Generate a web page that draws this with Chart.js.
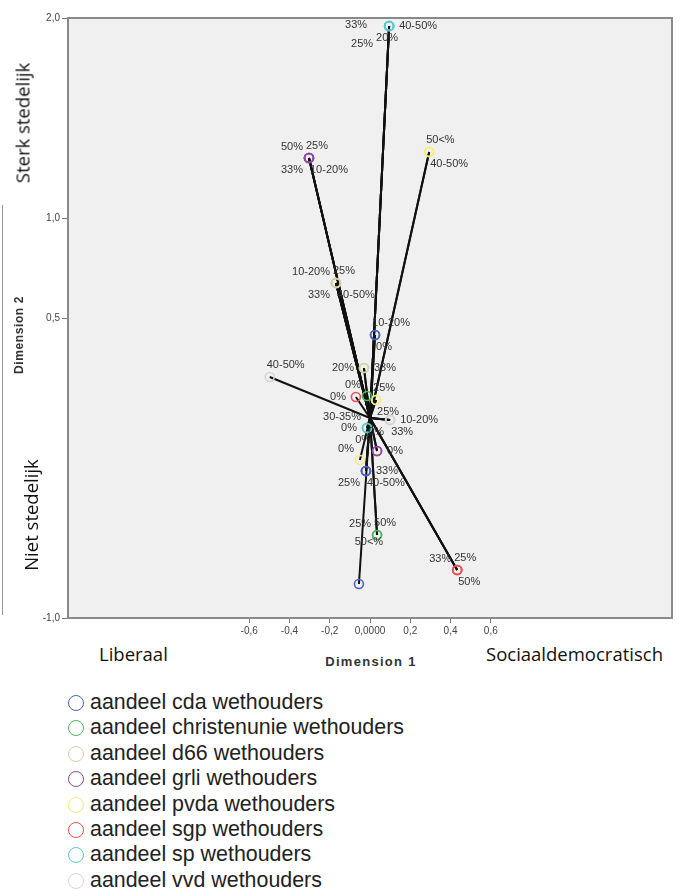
<!DOCTYPE html>
<html>
<head>
<meta charset="utf-8">
<script src="https://cdn.jsdelivr.net/npm/chart.js@4.4.1/dist/chart.umd.min.js"></script>
<style>
	body { margin: 0; width: 680px; height: 891px; background: #fff; position: relative; overflow: hidden; font-family: 'Liberation Sans', Arial, sans-serif; }
	#wrap { position: absolute; left: 0; top: 0; width: 680px; height: 640px; }
	.side { position: absolute; font-family: 'Open Sans', sans-serif; font-size: 18.5px; color: #111; white-space: nowrap; }
	.rot { transform: translate(-50%, -50%) rotate(-90deg); }
	.dim { position: absolute; font-weight: bold; font-size: 12px; color: #333; white-space: nowrap; letter-spacing: 0.6px; }
	.dim1 { font-size: 13px; letter-spacing: 1.3px; }
	.legend { position: absolute; left: 68px; top: 690px; }
	.legend div { height: 25.4px; line-height: 25.4px; font-size: 21.4px; color: #222; white-space: nowrap; }
	.legend span { display: inline-block; width: 16px; height: 16px; border: 1.6px solid; border-radius: 50%; vertical-align: -2px; margin-right: 6px; box-sizing: border-box; }
	.edge { position: absolute; left: 2px; top: 205px; width: 1px; height: 410px; background: #999; }
</style>
</head>
<body>
<div class="edge"></div>
<div id="wrap"><canvas id="chart"></canvas></div>
<div class="side rot" style="left:22px; top:123px;">Sterk stedelijk</div>
<div class="side rot" style="left:30px; top:515px;">Niet stedelijk</div>
<div class="dim rot" style="left:19px; top:335px;">Dimension 2</div>
<div class="dim dim1" style="left:371px; top:661px; transform: translate(-50%, -50%);">Dimension 1</div>
<div class="side" style="left:99px; top:641px;">Liberaal</div>
<div class="side" style="left:486px; top:641px;">Sociaaldemocratisch</div>
<div class="legend" id="legend"></div>
<script>
'use strict';

const parties = [
	'aandeel cda wethouders',
	'aandeel christenunie wethouders',
	'aandeel d66 wethouders',
	'aandeel grli wethouders',
	'aandeel pvda wethouders',
	'aandeel sgp wethouders',
	'aandeel sp wethouders',
	'aandeel vvd wethouders',
];

const xTicks = [-0.6, -0.4, -0.2, 0, 0.2, 0.4, 0.6];
const xTickLabels = ['-0,6', '-0,4', '-0,2', '0,0000', '0,2', '0,4', '0,6'];
const yTicks = [-1.0, 0.5, 1.0, 2.0];
const yTickLabels = ['-1,0', '0,5', '1,0', '2,0'];

// category points per party: dimension 1, dimension 2, category
const cdaDim1 = [0.025, 0.025, -0.02, -0.02, -0.02, -0.055];
const cdaDim2 = [0.415, 0.415, -0.265, -0.265, -0.265, -0.83];
const cdaCats = ['10-20%', '0%', '25%', '40-50%', '33%', '50<%'];

const cuDim1 = [-0.015, 0.035, 0.035];
const cuDim2 = [0.11, -0.585, -0.585];
const cuCats = ['0%', '25%', '50%'];

const d66Dim1 = [-0.169, -0.169, -0.169, -0.169, -0.03, -0.03];
const d66Dim2 = [0.675, 0.675, 0.675, 0.675, 0.25, 0.25];
const d66Cats = ['10-20%', '25%', '33%', '40-50%', '20%', '33%'];

const grliDim1 = [-0.303, -0.303, -0.303, -0.303, 0.035, 0.035];
const grliDim2 = [1.30, 1.30, 1.30, 1.30, -0.165, -0.165];
const grliCats = ['50%', '25%', '33%', '10-20%', '0%', '0%'];

const pvdaDim1 = [0.294, 0.294, 0.03, 0.03, -0.05];
const pvdaDim2 = [1.33, 1.33, 0.09, 0.09, -0.21];
const pvdaCats = ['50<%', '40-50%', '25%', '25%', '0%'];

const sgpDim1 = [-0.07, 0.433, 0.433, 0.433];
const sgpDim2 = [0.105, -0.76, -0.76, -0.76];
const sgpCats = ['0%', '33%', '25%', '50%'];

const spDim1 = [0.095, 0.095, 0.095, 0.095, -0.015, -0.015];
const spDim2 = [1.96, 1.96, 1.96, 1.96, -0.05, -0.05];
const spCats = ['33%', '40-50%', '25%', '20%', '30-35%', '0%'];

const vvdDim1 = [-0.498, 0.1, 0.1, 0.1];
const vvdDim2 = [0.205, -0.01, -0.01, -0.01];
const vvdCats = ['40-50%', '10-20%', '0%', '33%'];

const allDim1 = [cdaDim1, cuDim1, d66Dim1, grliDim1, pvdaDim1, sgpDim1, spDim1, vvdDim1];
const allDim2 = [cdaDim2, cuDim2, d66Dim2, grliDim2, pvdaDim2, sgpDim2, spDim2, vvdDim2];
const allCats = [cdaCats, cuCats, d66Cats, grliCats, pvdaCats, sgpCats, spCats, vvdCats];

// styling
const colors = ['#4a63c0', '#46b95a', '#d5d0a4', '#8e4aa0', '#f3ee7c', '#ee5050', '#58c8cc', '#d4d4d4'];

// where each category label sits around its point
const labelSpots = [
	['tr', 'br', 'bl', 'br', 'r', 'up'],
	['tl', 'tl', 'tr'],
	['tl', 'tr', 'bl', 'br', 'l', 'r'],
	['tl', 'tr', 'bl', 'br', 'tl', 'r'],
	['tr', 'br', 'tr', 'br', 'tl'],
	['l', 'tl', 'tr', 'br'],
	['ll', 'r', 'lb', 'b', 'tl', 'l'],
	['tr', 'r', 'bl', 'br'],
];
const spotOffsets = {
	tl: [-6, -11, 'right'],
	tr: [-3, -12, 'left'],
	bl: [-6, 12, 'right'],
	br: [1, 12, 'left'],
	l: [-10, 0, 'right'],
	ll: [-22, -1, 'right'],
	lb: [-16, 18, 'right'],
	r: [10, 0, 'left'],
	b: [-2, 12, 'center'],
	up: [10, -42, 'center'],
};

const datasets = [];

// vectors from the origin to each category point
for (let p = 0; p < parties.length; p++) {
	for (let i = 0; i < allDim1[p].length; i++) {
		datasets.push({
			data: [{ x: 0, y: 0 }, { x: allDim1[p][i], y: allDim2[p][i] }],
			showLine: true,
			borderColor: '#111',
			borderWidth: 2,
			pointRadius: 0,
			order: 2,
		});
	}
}

for (let p = 0; p < parties.length; p++) {
	datasets.push({
		label: parties[p],
		data: allDim1[p].map((x, i) => ({ x: x, y: allDim2[p][i] })),
		borderColor: colors[p],
		backgroundColor: 'rgba(0,0,0,0)',
		borderWidth: 1.6,
		pointRadius: 4.5,
		order: 1,
	});
}

const framePlugin = {
	id: 'frame',
	beforeDatasetsDraw(chart) {
		const a = chart.chartArea;
		const ctx = chart.ctx;
		ctx.save();
		ctx.fillStyle = '#f0f0f0';
		ctx.fillRect(a.left, a.top, a.right - a.left, a.bottom - a.top);
		ctx.restore();
	},
	afterDraw(chart) {
		const a = chart.chartArea;
		const ctx = chart.ctx;
		ctx.save();
		ctx.strokeStyle = '#8a8a8a';
		ctx.lineWidth = 2;
		ctx.strokeRect(a.left, a.top, a.right - a.left, a.bottom - a.top);
		ctx.restore();
	},
};

const labelPlugin = {
	id: 'catLabels',
	afterDatasetsDraw(chart) {
		const ctx = chart.ctx;
		const xs = chart.scales.x;
		const ys = chart.scales.y;
		ctx.save();
		ctx.font = '11px "Liberation Sans", Arial, sans-serif';
		ctx.fillStyle = '#333';
		ctx.textBaseline = 'middle';
		for (let p = 0; p < parties.length; p++) {
			for (let i = 0; i < allCats[p].length; i++) {
				const off = spotOffsets[labelSpots[p][i]];
				ctx.textAlign = off[2];
				ctx.fillText(
					allCats[p][i],
					xs.getPixelForValue(allDim1[p][i]) + off[0],
					ys.getPixelForValue(allDim2[p][i]) + off[1]
				);
			}
		}
		ctx.restore();
	},
};

const tickFont = { family: '"Liberation Sans", Arial, sans-serif', size: 10 };

new Chart(document.getElementById('chart').getContext('2d'), {
	type: 'scatter',
	data: { datasets: datasets },
	options: {
		responsive: true,
		maintainAspectRatio: false,
		animation: false,
		layout: { padding: { top: 18, right: 8, left: 0, bottom: 0 } },
		plugins: { legend: { display: false }, tooltip: { enabled: false } },
		scales: {
			x: {
				type: 'linear',
				min: -1.5,
				max: 1.5,
				afterBuildTicks: (s) => { s.ticks = xTicks.map((v) => ({ value: v })); },
				afterFit: (s) => { s.height = 22; },
				ticks: {
					autoSkip: false,
					maxRotation: 0,
					padding: 2,
					color: '#444',
					font: tickFont,
					callback: (v) => xTickLabels[xTicks.indexOf(v)],
				},
				grid: { drawOnChartArea: false, tickLength: 5, color: '#777' },
				border: { display: false },
			},
			y: {
				type: 'linear',
				min: -1.0,
				max: 2.0,
				afterBuildTicks: (s) => { s.ticks = yTicks.map((v) => ({ value: v })); },
				afterFit: (s) => { s.width = 68; },
				ticks: {
					autoSkip: false,
					padding: 2,
					color: '#444',
					font: tickFont,
					callback: (v) => yTickLabels[yTicks.indexOf(v)],
				},
				grid: { drawOnChartArea: false, tickLength: 6, color: '#777' },
				border: { display: false },
			},
		},
	},
	plugins: [framePlugin, labelPlugin],
});

const legend = document.getElementById('legend');
for (let p = 0; p < parties.length; p++) {
	legend.innerHTML += `<div><span style="border-color:${colors[p]}"></span>${parties[p]}</div>`;
}
</script>
</body>
</html>
